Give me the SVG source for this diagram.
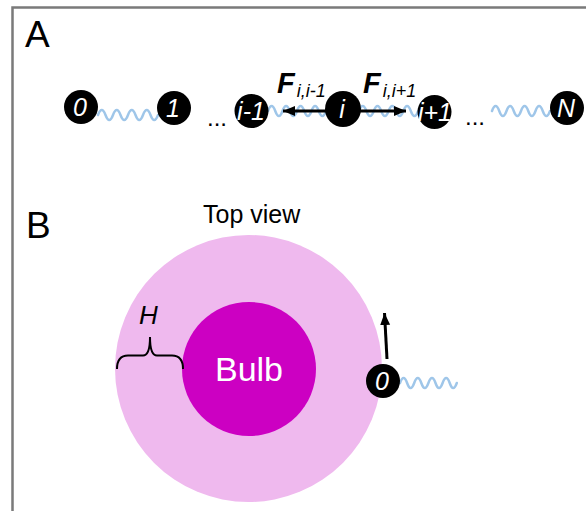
<svg xmlns="http://www.w3.org/2000/svg" width="586" height="511" viewBox="0 0 586 511">
  <style>
    .frame { fill: none; stroke: #7a7a7a; stroke-width: 2.5; }
    .panel { font-family: "Liberation Sans", Arial, sans-serif; font-size: 37px; fill: #000; }
    .bead { fill: #000; }
    .beadlbl { font-family: "Liberation Sans", Arial, sans-serif; font-size: 25px; font-style: italic; fill: #fff; text-anchor: middle; }
    .spring { fill: none; stroke: #9fc6e9; stroke-width: 2.5; stroke-linecap: round; }
    .force { stroke: #000; stroke-width: 3; fill: none; marker-end: url(#head); }
    .fsym { font-family: "Liberation Sans", Arial, sans-serif; font-size: 29px; font-weight: bold; font-style: italic; }
    .fsub { font-family: "Liberation Sans", Arial, sans-serif; font-size: 18px; font-style: italic; }
    .dots { font-family: "Liberation Sans", Arial, sans-serif; font-size: 24px; }
    .lbl { font-family: "Liberation Sans", Arial, sans-serif; }
  </style>
  <defs>
    <marker id="head" markerUnits="userSpaceOnUse" markerWidth="13" markerHeight="11" refX="12" refY="5" orient="auto">
      <path d="M0,0 L12,5 L0,10 z" fill="#000"/>
    </marker>
  </defs>

  <rect width="586" height="511" fill="#fff"/>
  <!-- panel frame: top and left edges only -->
  <path class="frame" d="M12.5,511 V7.5 H586"/>

  <text class="panel" x="25" y="47">A</text>
  <text class="panel" x="26" y="238">B</text>

  <!-- panel B: membrane (top view) -->
  <g id="membrane">
    <circle cx="248.5" cy="368.5" r="133.5" fill="#efb9ee"/>
    <text class="lbl" x="203" y="223" font-size="25">Top view</text>
  </g>
  <g id="bulb">
    <circle cx="249" cy="369" r="67" fill="#cc00c2"/>
    <text class="lbl" x="249" y="381" font-size="34" fill="#fff" text-anchor="middle">Bulb</text>
  </g>
  <g id="height-brace">
    <path d="M117,369 Q117,355.5 128,355.5 L143,355.5 Q150,355.5 150,337 Q150,355.5 157,355.5 L172,355.5 Q183,355.5 183,369" fill="none" stroke="#000" stroke-width="2"/>
    <text class="lbl" x="139" y="324" font-size="26" font-style="italic">H</text>
  </g>

  <!-- springs and forces -->
  <g id="connectors">
    <path class="spring" d="M98,115 q3.75,-10 7.5,0 t7.5,0 t7.5,0 t7.5,0 t7.5,0 t7.5,0 t7.5,0 t7.5,0"/>
    <path class="spring" d="M268,111 q3.6,-10 7.25,0 t7.25,0 t7.25,0 t7.25,0 t7.25,0 t7.25,0 t7.25,0 t7.25,0"/>
    <path class="spring" d="M359,111 q3.7,-10 7.4,0 t7.4,0 t7.4,0 t7.4,0 t7.4,0 t7.4,0 t7.4,0 t7.4,0"/>
    <path class="spring" d="M492,111 q3.6,-10 7.25,0 t7.25,0 t7.25,0 t7.25,0 t7.25,0 t7.25,0 t7.25,0 t7.25,0"/>
    <path class="spring" d="M400,383 q3.6,-10 7.1,0 t7.1,0 t7.1,0 t7.1,0 t7.1,0 t7.1,0 t7.1,0 t7.1,0"/>
    <line class="force" x1="327" y1="111" x2="283" y2="111"/>
    <line class="force" x1="359" y1="111" x2="406" y2="111"/>
    <line class="force" x1="387" y1="359" x2="384.5" y2="313"/>
  </g>

  <g id="force-labels">
    <text x="277" y="93"><tspan class="fsym">F</tspan><tspan class="fsub" dx="2" dy="4">i,i-1</tspan></text>
    <text x="363" y="93"><tspan class="fsym">F</tspan><tspan class="fsub" dx="2" dy="4">i,i+1</tspan></text>
  </g>

  <text class="dots" x="207" y="126">...</text>
  <text class="dots" x="465" y="125">...</text>

  <!-- beads of the chain -->
  <g id="bead-0"><circle class="bead" cx="81" cy="107" r="17"/><text class="beadlbl" x="80" y="116">0</text></g>
  <g id="bead-1"><circle class="bead" cx="174" cy="108" r="17"/><text class="beadlbl" x="173" y="117">1</text></g>
  <g id="bead-im1"><circle class="bead" cx="251.5" cy="111" r="17"/><text class="beadlbl" x="251" y="120">i-1</text></g>
  <g id="bead-i"><circle class="bead" cx="343" cy="109" r="18"/><text class="beadlbl" x="342" y="118">i</text></g>
  <g id="bead-ip1"><circle class="bead" cx="434.5" cy="112" r="17"/><text class="beadlbl" x="435" y="121">i+1</text></g>
  <g id="bead-N"><circle class="bead" cx="567" cy="108" r="17"/><text class="beadlbl" x="566" y="117">N</text></g>
  <g id="bead-0-top"><circle class="bead" cx="383" cy="381" r="17"/><text class="beadlbl" x="382" y="390">0</text></g>
</svg>
